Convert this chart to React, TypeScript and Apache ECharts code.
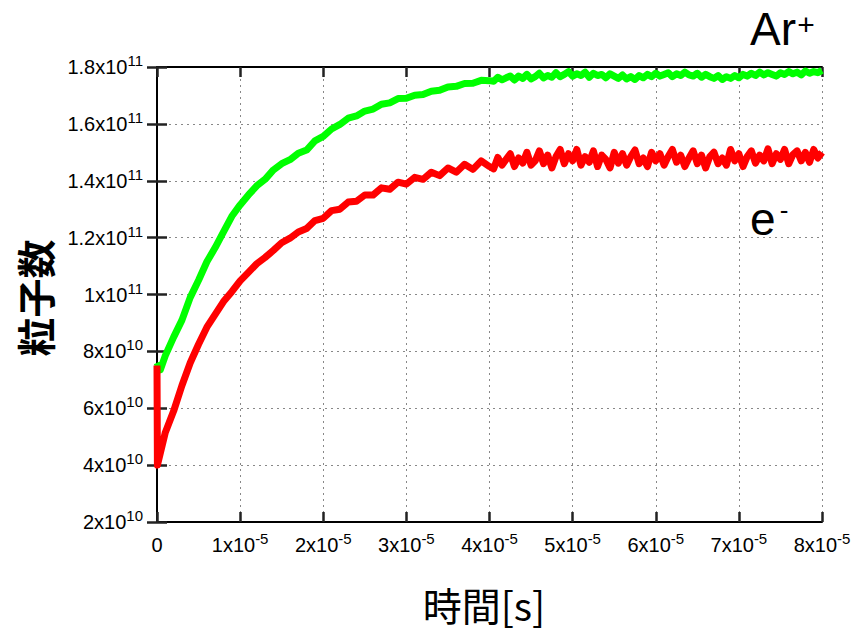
import React, { useEffect, useRef } from "react";
import * as echarts from "echarts";

// Time samples in units of 1e-6 s
const arTimes = [0, 0.4, 1, 2, 3, 4, 5, 6, 7, 8, 9, 10, 11, 12, 13, 14, 15, 16, 17, 18, 19, 20,
  21, 22, 23, 24, 25, 26, 27, 28, 29, 30, 31, 32, 33, 34, 35, 36, 37, 38, 39, 40,
  40.5, 41, 41.5, 42, 42.5, 43, 43.5, 44, 44.5, 45, 45.5, 46, 46.5, 47, 47.5, 48, 48.5, 49, 49.5, 50,
  50.5, 51, 51.5, 52, 52.5, 53, 53.5, 54, 54.5, 55, 55.5, 56, 56.5, 57, 57.5, 58, 58.5, 59, 59.5, 60,
  60.5, 61, 61.5, 62, 62.5, 63, 63.5, 64, 64.5, 65, 65.5, 66, 66.5, 67, 67.5, 68, 68.5, 69, 69.5, 70,
  70.5, 71, 71.5, 72, 72.5, 73, 73.5, 74, 74.5, 75, 75.5, 76, 76.5, 77, 77.5, 78, 78.5, 79, 79.5, 80];
// Ar+ particle count in units of 1e10
const arValues = [7.6, 7.35, 7.85, 8.5, 9.1, 9.9, 10.5, 11.15, 11.65, 12.2, 12.75, 13.15, 13.5, 13.82, 14.05, 14.38, 14.6, 14.74, 14.97, 15.08, 15.4, 15.56,
  15.82, 15.98, 16.2, 16.28, 16.45, 16.52, 16.69, 16.74, 16.89, 16.9, 17.01, 17.03, 17.15, 17.18, 17.3, 17.32, 17.42, 17.43, 17.53, 17.52,
  17.5, 17.64, 17.55, 17.62, 17.68, 17.54, 17.68, 17.6, 17.74, 17.58, 17.66, 17.78, 17.62, 17.7, 17.64, 17.8, 17.66, 17.74, 17.84, 17.68,
  17.76, 17.7, 17.82, 17.64, 17.78, 17.7, 17.74, 17.62, 17.76, 17.68, 17.6, 17.72, 17.58, 17.66, 17.56, 17.7, 17.62, 17.74, 17.66, 17.78,
  17.68, 17.74, 17.8, 17.66, 17.76, 17.7, 17.82, 17.72, 17.68, 17.78, 17.64, 17.74, 17.66, 17.6, 17.7, 17.56, 17.66, 17.6, 17.7, 17.62,
  17.74, 17.68, 17.78, 17.7, 17.82, 17.72, 17.8, 17.74, 17.68, 17.8, 17.74, 17.84, 17.76, 17.82, 17.72, 17.86, 17.78, 17.84, 17.8, 17.88];

const eTimes = [0, 0.05, 1, 2, 3, 4, 5, 6, 7, 8, 9, 10, 11, 12, 13, 14, 15, 16, 17, 18, 19, 20,
  21, 22, 23, 24, 25, 26, 27, 28, 29, 30, 31, 32, 33, 34, 35, 36, 37, 38, 39, 40,
  40.5, 41, 41.5, 42, 42.5, 43, 43.5, 44, 44.5, 45, 45.5, 46, 46.5, 47, 47.5, 48, 48.5, 49, 49.5, 50,
  50.5, 51, 51.5, 52, 52.5, 53, 53.5, 54, 54.5, 55, 55.5, 56, 56.5, 57, 57.5, 58, 58.5, 59, 59.5, 60,
  60.5, 61, 61.5, 62, 62.5, 63, 63.5, 64, 64.5, 65, 65.5, 66, 66.5, 67, 67.5, 68, 68.5, 69, 69.5, 70,
  70.5, 71, 71.5, 72, 72.5, 73, 73.5, 74, 74.5, 75, 75.5, 76, 76.5, 77, 77.5, 78, 78.5, 79, 79.5, 80];
// electron count in units of 1e10
const eValues = [7.5, 4.0, 5.15, 5.9, 6.8, 7.6, 8.25, 8.85, 9.3, 9.75, 10.1, 10.48, 10.78, 11.08, 11.3, 11.55, 11.82, 11.98, 12.2, 12.32, 12.6, 12.68,
  12.95, 13.0, 13.25, 13.28, 13.5, 13.5, 13.75, 13.7, 13.95, 13.88, 14.12, 14.05, 14.3, 14.18, 14.45, 14.3, 14.58, 14.4, 14.7, 14.5,
  14.42, 14.82, 14.55, 14.75, 14.95, 14.5, 14.8, 14.62, 15.0, 14.55, 14.7, 15.05, 14.6, 14.9, 14.45, 14.85, 15.1, 14.6, 14.95, 14.7,
  15.1, 14.55, 14.85, 14.65, 15.05, 14.5, 14.9, 14.75, 14.45, 15.0, 14.62, 14.95, 14.55, 14.85, 15.08, 14.6, 14.8, 14.5, 15.0, 14.7,
  14.95, 14.55, 14.85, 15.1, 14.65, 14.9, 14.5, 14.8, 15.05, 14.6, 14.9, 14.45, 14.85, 15.0, 14.6, 14.8, 14.55, 15.1, 14.7, 14.95,
  14.5, 14.85, 15.05, 14.62, 14.9, 14.7, 15.12, 14.6, 14.95, 14.75, 15.1, 14.6, 14.92, 15.05, 14.7, 15.0, 14.65, 15.1, 14.8, 15.0];

const xTitle = "時間[s]";
const yTitle = "粒子数";

const LABEL_FONT = "Liberation Sans";

function sci(v: number): string {
  if (Math.abs(v) < 1e-30) return "{m|0}";
  const e = Math.floor(Math.log10(Math.abs(v)) + 1e-9);
  const m = Math.round((v / Math.pow(10, e)) * 10) / 10;
  return `{m|${m}x10}{s|${e}}`;
}

const rich = {
  m: { fontSize: 20, lineHeight: 20, fontFamily: LABEL_FONT, color: "#000", verticalAlign: "bottom" },
  s: { fontSize: 15, lineHeight: 15, fontFamily: LABEL_FONT, color: "#000", verticalAlign: "bottom", padding: [0, 0, 9, 0] },
};

export default function App() {
  const ref = useRef<HTMLDivElement>(null);
  useEffect(() => {
    if (!ref.current) return;
    const chart = echarts.init(ref.current, null, { renderer: "svg" });
    const axisLine = { show: true, lineStyle: { color: "#000", width: 2 } };
    const axisTick = { show: true, inside: true, length: 10, lineStyle: { color: "#222", width: 2.5 } };
    const split = { show: true, lineStyle: { color: "#888", width: 1, type: [2, 4] } };
    chart.setOption({
      animation: false,
      backgroundColor: "#fff",
      grid: { left: 157, right: 37, top: 67, bottom: 111, containLabel: false },
      xAxis: [
        {
          type: "value", min: 0, max: 8e-5, interval: 1e-5, position: "bottom",
          axisLine, axisTick, splitLine: split,
          axisLabel: { margin: 13, formatter: (v: number) => sci(v), rich },
        },
        {
          type: "value", min: 0, max: 8e-5, interval: 1e-5, position: "top",
          axisLine, axisTick, splitLine: { show: false }, axisLabel: { show: false },
        },
      ],
      yAxis: [
        {
          type: "value", min: 2e10, max: 1.8e11, interval: 2e10, position: "left",
          axisLine, axisTick, splitLine: split,
          axisLabel: { margin: 14, formatter: (v: number) => sci(v), rich },
        },
        {
          type: "value", min: 2e10, max: 1.8e11, interval: 2e10, position: "right",
          axisLine, axisTick, splitLine: { show: false }, axisLabel: { show: false },
        },
      ],
      series: [
        {
          name: "Ar+", type: "line", showSymbol: false, symbol: "none",
          data: arTimes.map((t, i) => [t * 1e-6, arValues[i] * 1e10]),
          lineStyle: { color: "#00ff00", width: 7, join: "round" }, itemStyle: { color: "#00ff00" },
          z: 3,
        },
        {
          name: "e-", type: "line", showSymbol: false, symbol: "none",
          data: eTimes.map((t, i) => [t * 1e-6, eValues[i] * 1e10]),
          lineStyle: { color: "#ff0000", width: 7, join: "round" }, itemStyle: { color: "#ff0000" },
          z: 4,
        },
      ],
      graphic: [
        {
          type: "text", x: 34, y: 298, rotation: Math.PI / 2,
          style: { text: yTitle, fontSize: 39, fontWeight: "bold", fontFamily: "Noto Sans CJK JP", fill: "#000", align: "center", verticalAlign: "middle" },
        },
        {
          type: "text", x: 484, y: 604,
          style: { text: xTitle, fontSize: 39, fontFamily: "Noto Sans CJK JP", fill: "#000", align: "center", verticalAlign: "middle" },
        },
        {
          type: "text", x: 750, y: 29,
          style: { text: "Ar", fontSize: 46, fontFamily: LABEL_FONT, fill: "#000", align: "left", verticalAlign: "middle" },
        },
        {
          type: "text", x: 806, y: 24,
          style: { text: "+", fontSize: 30, fontFamily: LABEL_FONT, fill: "#000", align: "center", verticalAlign: "middle" },
        },
        {
          type: "text", x: 750, y: 219,
          style: { text: "e", fontSize: 46, fontFamily: LABEL_FONT, fill: "#000", align: "left", verticalAlign: "middle" },
        },
        {
          type: "text", x: 784, y: 210,
          style: { text: "-", fontSize: 26, fontFamily: LABEL_FONT, fill: "#000", align: "center", verticalAlign: "middle" },
        },
      ],
    });
    return () => chart.dispose();
  }, []);
  return <div ref={ref} style={{ position: "fixed", left: 0, top: 0, width: 859, height: 633 }} />;
}
